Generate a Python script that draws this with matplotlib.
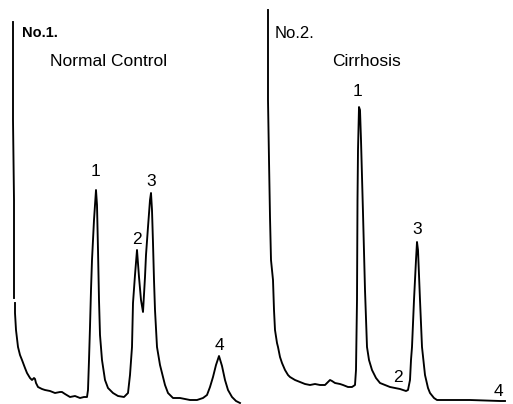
import numpy as np
import matplotlib
matplotlib.use("Agg")
import matplotlib.pyplot as plt

plt.rcParams['font.family'] = ['Liberation Sans', 'DejaVu Sans']

# ---- Data (time in chart units, detector response in chart units) ----
# No.1  Normal Control
t1 = [0, 0, 1, 1, np.nan, 2, 2, 3, 5, 7, 9, 12, 14, 17, 19, 21, 22, 23, 25, 29, 32,
      37, 42, 47, 49, 52, 57, 62, 67, 71, 74, 75, 76, 77, 78, 79, 81, 83, 84, 85, 86,
      87, 89, 92, 95, 100, 105, 111, 115, 117, 119, 120, 122, 124, 126, 128, 130,
      132, 133, 135, 137, 138, 139, 140, 141, 142, 144, 147, 149, 152, 155, 160,
      167, 177, 184, 190, 194, 197, 200, 203, 206, 209, 212, 215, 219, 223, 227]
s1 = [378, 280, 200, 102, np.nan, 97, 87, 70, 53, 45, 40, 32, 27, 22, 20, 22, 21,
      17, 13, 11, 10, 9, 7, 8, 8, 6, 3, 4, 2, 3, 3, 10, 40, 73, 110, 140, 180, 210,
      195, 150, 100, 65, 40, 20, 12, 7, 4, 3, 7, 25, 53, 97, 125, 150, 123, 100, 88,
      123, 145, 173, 200, 207, 190, 157, 120, 90, 53, 35, 27, 15, 7, 2, 2, 0, 0, 2,
      5, 13, 23, 35, 44, 34, 20, 10, 3, -1, -3]

# No.2  Cirrhosis
t2 = [0, 0, 1, 2, 3, 5, 6, 7, 9, 10, 12, 14, 17, 20, 22, 27, 32, 37, 42, 47, 52, 57,
      60, 62, 64, 67, 72, 75, 80, 84, 87, 88, 89, 89.5, 90, 91, 92, 93, 95, 97, 99,
      101, 104, 108, 112, 117, 122, 127, 132, 135, 138, 140, 142, 143, 144, 146,
      148, 149, 150, 152, 154, 157, 160, 162, 166, 169, 177, 202, 232, 237]
s2 = [390, 300, 240, 183, 140, 120, 90, 70, 57, 53, 43, 37, 30, 25, 23, 20, 18, 16,
      15, 16, 15, 15, 18, 20, 19, 17, 16, 15, 13, 13, 15, 30, 100, 200, 250, 293,
      290, 260, 187, 110, 53, 40, 30, 22, 17, 15, 13, 12, 11, 10, 9, 10, 20, 40, 53,
      100, 140, 158, 150, 100, 53, 25, 12, 7, 2, 0, 0, 0, -1, -1]

# peak labels: (label, time, response)
labels1 = [("1", 83, 228), ("2", 124, 160), ("3", 138, 218), ("4", 206, 54)]
labels2 = [("1", 90, 308), ("2", 130, 23), ("3", 149, 171), ("4", 230, 8)]

W, H = 513, 404
fig = plt.figure(figsize=(W / 100, H / 100), dpi=100)
fig.patch.set_facecolor('white')

ax1 = fig.add_axes([0, 0, 255 / W, 1])
ax2 = fig.add_axes([255 / W, 0, 258 / W, 1])
ax1.set_xlim(-13, 242)
ax2.set_xlim(-13, 245)
for ax in (ax1, ax2):
    ax.set_ylim(-4, 400)
    ax.axis('off')

ax1.plot(t1, s1, color='black', lw=1.35, solid_joinstyle='round')
ax2.plot(t2, s2, color='black', lw=1.35, solid_joinstyle='round')

for lab, t, s in labels1:
    ax1.text(t, s, lab, ha='center', va='center', fontsize=12.5, color='black')
for lab, t, s in labels2:
    ax2.text(t, s, lab, ha='center', va='center', fontsize=12.5, color='black')

ax1.text(9, 367, "No.1.", ha='left', va='center', fontsize=10.5,
         fontweight='bold', color='black')
ax1.text(37, 339, "Normal Control", ha='left', va='center', fontsize=12.5,
         color='black')
ax2.text(7, 367, "No.2.", ha='left', va='center', fontsize=12, color='black')
ax2.text(64, 339, "Cirrhosis", ha='left', va='center', fontsize=12.5,
         color='black')

fig.savefig("out.png", dpi=100, facecolor='white')
